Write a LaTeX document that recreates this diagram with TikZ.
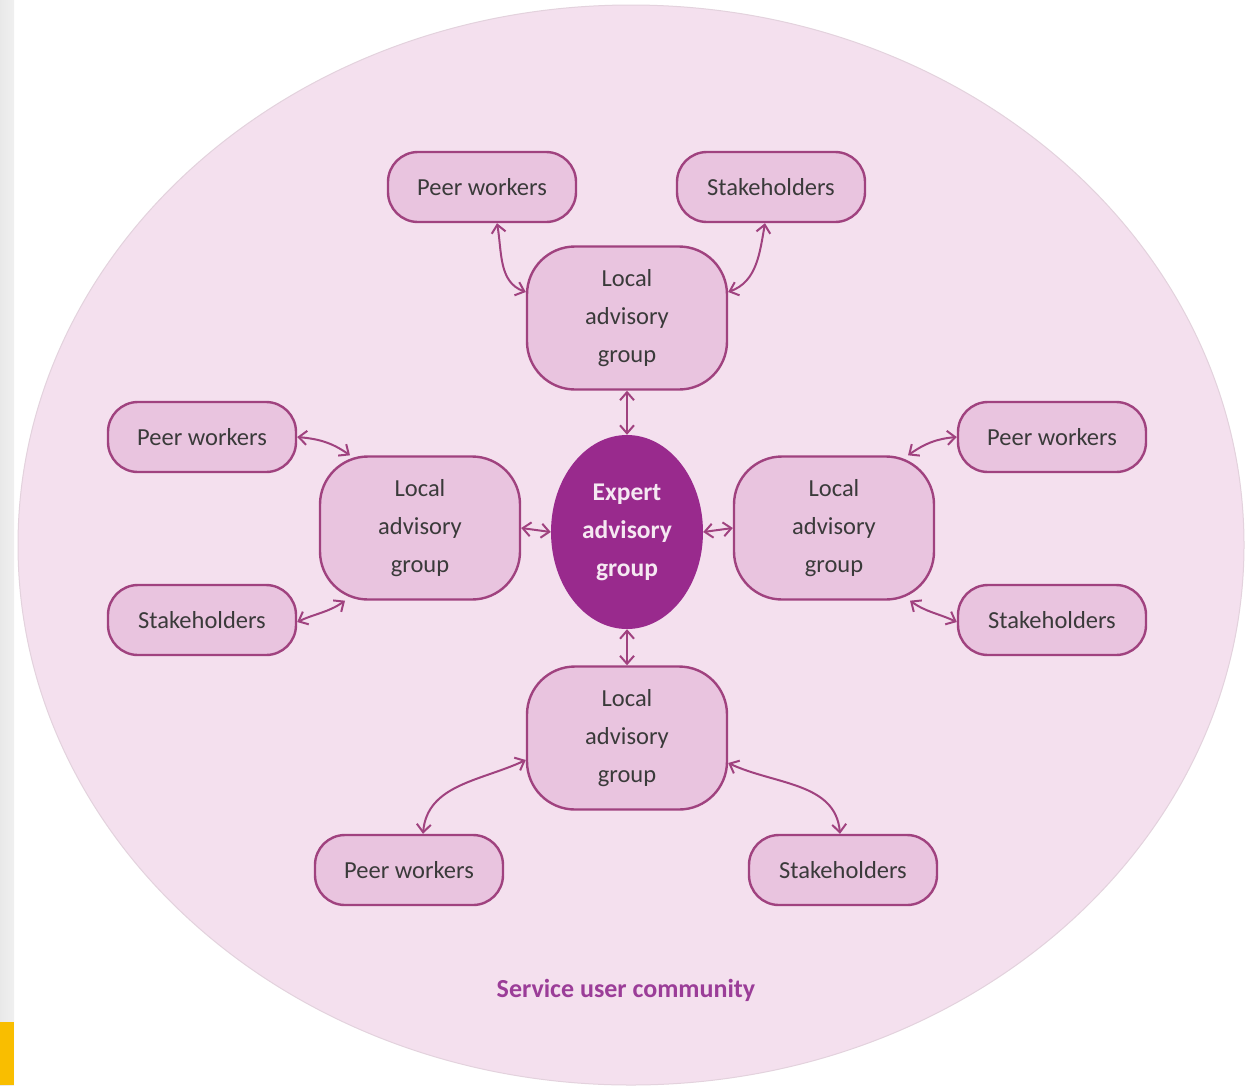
\documentclass[tikz,border=0pt]{standalone}
\usepackage{fontspec}
\setmainfont{Carlito}
\usetikzlibrary{arrows.meta,shapes.geometric}
\definecolor{bgpink}{HTML}{F4E0EE}
\definecolor{boxfill}{HTML}{E9C4DF}
\definecolor{boxline}{HTML}{A0427F}
\definecolor{expfill}{HTML}{992A8D}
\definecolor{exptext}{HTML}{F5E8F2}
\definecolor{txt}{HTML}{3A3A3A}
\definecolor{labelc}{HTML}{9B3D98}
\definecolor{stripc}{HTML}{F0F0F0}
\definecolor{yel}{HTML}{F9BE00}
\tikzset{
  smallbox/.style={draw=boxline, fill=boxfill, line width=2.4pt, rounded corners=30pt,
    minimum width=188pt, minimum height=70pt, inner sep=0pt, text=txt,
    font=\fontsize{24.5}{30}\selectfont},
  lagbox/.style={draw=boxline, fill=boxfill, line width=2.4pt, rounded corners=48pt,
    minimum width=200pt, minimum height=143pt, inner sep=0pt, text=txt, align=center,
    font=\fontsize{24.5}{38}\selectfont},
  expert/.style={ellipse, fill=expfill, minimum width=152pt, minimum height=194pt,
    inner sep=0pt, text=exptext, align=center, font=\fontsize{25.5}{38}\selectfont\bfseries},
  link/.style={draw=boxline, line width=2pt, {Straight Barb[length=8pt,width=14pt]}-{Straight Barb[length=8pt,width=14pt]}}
}
\begin{document}
\begin{tikzpicture}[x=1pt,y=1pt]
\useasboundingbox (0,0) rectangle (1255,-1085);
\fill[white] (0,0) rectangle (1255,-1085);
\shade[left color=stripc!80!gray!60, right color=stripc] (0,0) rectangle (14,-1085);
\fill[yel] (0,-1022) rectangle (14,-1085);
\begin{scope}
\clip (0,0) rectangle (1255,-1085);
\filldraw[fill=bgpink, draw=bgpink!85!gray, line width=1pt] (631,-545) ellipse [x radius=613, y radius=540];
\end{scope}

\node[expert] (exp) at (627,-532) {Expert\\advisory\\group};
\node[lagbox] (lagT) at (627,-318) {Local\\advisory\\group};
\node[lagbox] (lagL) at (420,-528) {Local\\advisory\\group};
\node[lagbox] (lagR) at (834,-528) {Local\\advisory\\group};
\node[lagbox] (lagB) at (627,-738) {Local\\advisory\\group};

\node[smallbox] (pwT) at (482,-187) {Peer workers};
\node[smallbox] (shT) at (771,-187) {Stakeholders};
\node[smallbox] (pwL) at (202,-437) {Peer workers};
\node[smallbox] (shL) at (202,-620) {Stakeholders};
\node[smallbox] (pwR) at (1052,-437) {Peer workers};
\node[smallbox] (shR) at (1052,-620) {Stakeholders};
\node[smallbox] (pwB) at (409,-870) {Peer workers};
\node[smallbox] (shB) at (843,-870) {Stakeholders};

\node[text=labelc, font=\fontsize{26}{30}\selectfont\bfseries] (suc) at (626,-990) {Service user community};

\draw[link] (lagT.south) -- (exp.north);
\draw[link] (lagB.north) -- (exp.south);
\draw[link] (lagL.east) -- (exp.west);
\draw[link] (lagR.west) -- (exp.east);

\draw[link] ([xshift=15pt]pwT.south) to[out=-80,in=160] ([yshift=26pt]lagT.west);
\draw[link] ([xshift=-6pt]shT.south) to[out=-100,in=20] ([yshift=26pt]lagT.east);
\draw[link] (pwL.east) to[out=-5,in=145] ([xshift=-70pt]lagL.north);
\draw[link] ([yshift=-2pt]shL.east) to[out=25,in=-145] ([xshift=-75pt]lagL.south);
\draw[link] (pwR.west) to[out=185,in=35] ([xshift=74pt]lagR.north);
\draw[link] ([yshift=-2pt]shR.west) to[out=155,in=-35] ([xshift=76pt]lagR.south);
\draw[link] ([xshift=14pt]pwB.north) to[out=85,in=-155] ([yshift=-22pt]lagB.west);
\draw[link] ([xshift=-3pt]shB.north) to[out=95,in=-25] ([yshift=-25pt]lagB.east);
\end{tikzpicture}
\end{document}
